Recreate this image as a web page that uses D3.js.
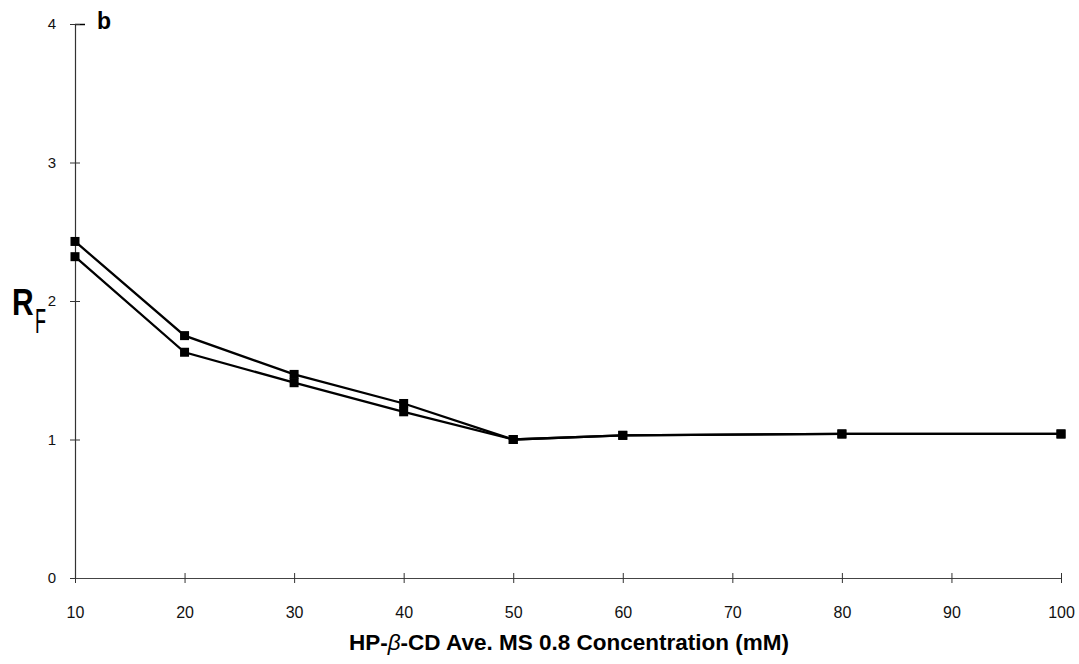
<!DOCTYPE html>
<html>
<head>
<meta charset="utf-8">
<script src="https://cdn.jsdelivr.net/npm/d3@7"></script>
<style>
  body { margin: 0; background: #fff; }
  text { font-family: "Liberation Sans", Arial, sans-serif; }
</style>
</head>
<body>
<div id="chart"></div>
<script>
// values
var xTicks = [10, 20, 30, 40, 50, 60, 70, 80, 90, 100];
var yTicks = [0, 1, 2, 3, 4];
var upperX = [10, 20, 30, 40, 50, 60, 80, 100];
var upperY = [2.43, 1.75, 1.47, 1.26, 1.0, 1.03, 1.04, 1.04];
var lowerX = [10, 20, 30, 40, 50, 60, 80, 100];
var lowerY = [2.32, 1.63, 1.41, 1.20, 1.0, 1.03, 1.04, 1.04];

var width = 1079, height = 664;
var svg = d3.select("#chart").append("svg")
  .attr("width", width)
  .attr("height", height);

var x = d3.scaleLinear().domain([10, 100]).range([75, 1061]);
var y = d3.scaleLinear().domain([0, 4]).range([578, 24]);

// y axis
var yAxis = d3.axisLeft(y).tickValues(yTicks).tickFormat(d3.format("d"))
  .tickSize(0).tickPadding(19);
var gy = svg.append("g").attr("transform", "translate(75,0)").call(yAxis);
gy.attr("font-size", 15);
gy.select(".domain").attr("stroke", "#333").attr("stroke-width", 1.2);
gy.selectAll(".tick text").attr("fill", "#111");
gy.selectAll(".tick").append("line")
  .attr("x1", -5).attr("x2", 5)
  .attr("stroke", "#333");
gy.selectAll(".tick").filter(function(d){ return d === 4; }).select("line")
  .attr("x2", 10).attr("stroke-width", 1.5);

// x axis
var xAxis = d3.axisBottom(x).tickValues(xTicks).tickSize(0).tickPadding(29);
var gx = svg.append("g").attr("transform", "translate(0,578)").call(xAxis);
gx.attr("font-size", 16);
gx.select(".domain").attr("stroke", "#444").attr("stroke-width", 1);
gx.selectAll(".tick text").attr("fill", "#111");
gx.selectAll(".tick").append("line")
  .attr("y1", -5).attr("y2", 5)
  .attr("stroke", "#333");

var line = d3.line()
  .x(function(d){ return x(d[0]); })
  .y(function(d){ return y(d[1]); });

function drawSeries(xs, ys) {
  var pts = d3.zip(xs, ys);
  svg.append("path")
    .datum(pts)
    .attr("fill", "none")
    .attr("stroke", "#000")
    .attr("stroke-width", 2.3)
    .attr("d", line);
  svg.selectAll(null)
    .data(pts)
    .enter().append("rect")
    .attr("x", function(d){ return x(d[0]) - 4.5; })
    .attr("y", function(d){ return y(d[1]) - 4.5; })
    .attr("width", 9)
    .attr("height", 9)
    .attr("fill", "#000");
}
drawSeries(upperX, upperY);
drawSeries(lowerX, lowerY);

// panel letter
svg.append("text")
  .attr("x", 97).attr("y", 29)
  .attr("font-size", 23).attr("font-weight", "bold")
  .text("b");

// y label R with subscript F (tall, narrow letters as in the original)
svg.append("text")
  .attr("transform", "translate(12,315) scale(1,1.25)")
  .attr("font-size", 30).attr("font-weight", "bold")
  .text("R");
svg.append("text")
  .attr("transform", "translate(35,333) scale(0.9,1.8)")
  .attr("font-size", 20)
  .text("F");

// x label
var xl = svg.append("text")
  .attr("x", 569).attr("y", 650)
  .attr("text-anchor", "middle")
  .attr("font-size", 22.5).attr("font-weight", "bold");
xl.append("tspan").text("HP-");
xl.append("tspan").attr("font-style", "italic").attr("font-weight", "normal").text("β");
xl.append("tspan").text("-CD Ave. MS 0.8 Concentration (mM)");
</script>
</body>
</html>
